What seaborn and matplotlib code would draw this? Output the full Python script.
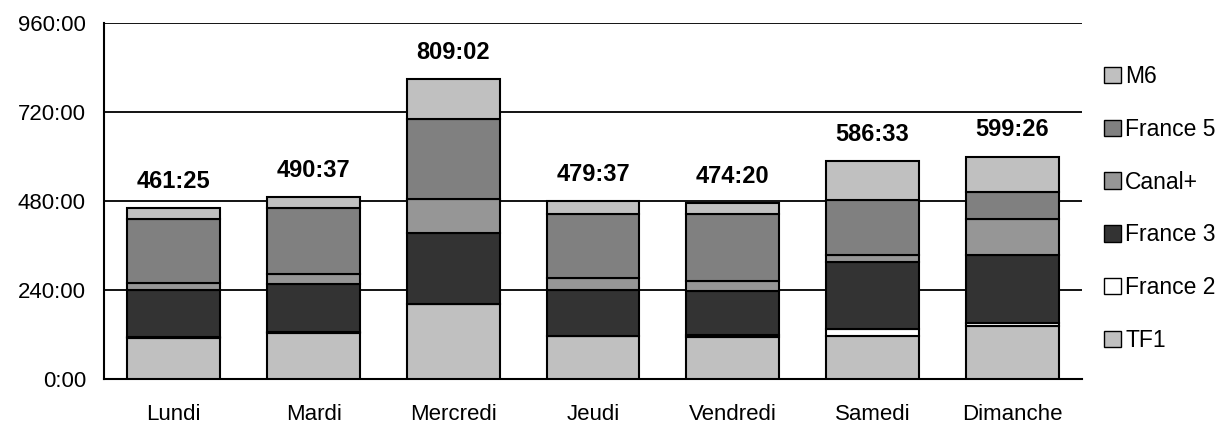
import matplotlib
matplotlib.use("Agg")
import matplotlib.pyplot as plt
import numpy as np
import seaborn as sns
from matplotlib.patches import Patch
from matplotlib.ticker import FuncFormatter, FixedLocator

sns.set_theme(style="white")
plt.rcParams.update(
    {
        "font.family": ["Liberation Sans", "DejaVu Sans"],
        "axes.edgecolor": "black",
        "axes.linewidth": 1.5,
        "text.color": "black",
        "xtick.color": "black",
        "ytick.color": "black",
    }
)

days = ["Lundi", "Mardi", "Mercredi", "Jeudi", "Vendredi", "Samedi", "Dimanche"]
channels = ["TF1", "France 2", "France 3", "Canal+", "France 5", "M6"]

# hours per channel and day
tf1 = [111, 124, 201, 115, 114, 115, 143]
france2 = [1, 4, 1, 1, 4, 21, 8]
france3 = [127, 129, 193, 123, 120, 179, 183]
canal = [19, 27, 91, 33, 25, 20, 97]
france5 = [173, 178, 215, 174, 181, 148, 72]
m6 = [30.4, 28.6, 108.0, 33.6, 30.3, 103.6, 96.4]

totals = ["461:25", "490:37", "809:02", "479:37", "474:20", "586:33", "599:26"]

colors = ["#C0C0C0", "#FFFFFF", "#333333", "#969696", "#808080", "#C0C0C0"]


def hmm(v, pos=None):
    h = int(v)
    m = int(round((v - h) * 60))
    return f"{h}:{m:02d}"


fig = plt.figure(figsize=(12.26, 4.23), dpi=100)
ax = fig.add_axes([104 / 1226, 1 - 379 / 423, (1082 - 104) / 1226, (379 - 23) / 423])

series = [tf1, france2, france3, canal, france5, m6]
x = np.arange(len(days))
bottom = np.zeros(len(days))
for name, vals, c in zip(channels, series, colors):
    ax.bar(x, vals, bottom=bottom, width=0.665, color=c, edgecolor="black",
           linewidth=1.5, label=name, zorder=3)
    bottom += np.array(vals)

for xi, top, lab in zip(x, bottom, totals):
    ax.annotate(lab, (xi, top), xytext=(0, 11), textcoords="offset points",
                ha="center", va="bottom", fontsize=17, fontweight="bold")

ax.set_xlim(-0.5, 6.5)
ax.set_ylim(0, 960)
ax.yaxis.set_major_locator(FixedLocator([0, 240, 480, 720, 960]))
ax.yaxis.set_major_formatter(FuncFormatter(hmm))
ax.yaxis.grid(True, color="black", linewidth=1.3, zorder=0)
ax.set_axisbelow(True)
ax.set_xticks(x)
ax.set_xticklabels(days)
ax.xaxis.set_minor_locator(FixedLocator(np.arange(0.5, 7, 1)))
ax.tick_params(axis="x", which="major", length=0, labelsize=16, pad=18)
ax.tick_params(axis="x", which="minor", direction="in", length=5, width=1.5, color="black")
ax.tick_params(axis="y", direction="out", length=5, width=1.5, color="black",
               labelsize=16, pad=8)
sns.despine(ax=ax, top=True, right=True)

handles = [Patch(facecolor=c, edgecolor="black", linewidth=1, label=n)
           for n, c in zip(channels, colors)][::-1]
fig.legend(handles=handles, loc="upper left", bbox_to_anchor=(1104 / 1226, 1 - 65 / 423),
           frameon=False, fontsize=16.5, handlelength=0.72, handleheight=0.72,
           handletextpad=0.2, labelspacing=1.3, borderaxespad=0, borderpad=0)

fig.savefig("out.png", dpi=100)
